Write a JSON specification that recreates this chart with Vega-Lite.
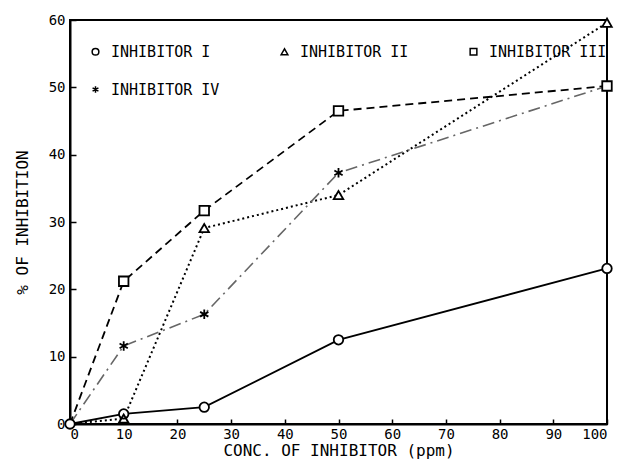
{
  "$schema": "https://vega.github.io/schema/vega-lite/v6.json",
  "autosize": "none",
  "width": 537,
  "height": 404,
  "padding": {"left": 70, "top": 20, "right": 12, "bottom": 43},
  "background": "white",
  "config": {
    "view": {"stroke": "black", "strokeWidth": 2},
    "font": "DejaVu Sans Mono",
    "axis": {
      "labelFont": "DejaVu Sans Mono",
      "titleFont": "DejaVu Sans Mono",
      "labelColor": "black",
      "titleColor": "black",
      "domainColor": "black",
      "domainWidth": 2,
      "tickColor": "black",
      "tickWidth": 1.5,
      "grid": false,
      "labelFontSize": 14,
      "titleFontSize": 16,
      "titleFontWeight": "normal"
    }
  },
  "data": {
    "values": [
      {"series": "INHIBITOR I", "x": 0, "y": 0},
      {"series": "INHIBITOR I", "x": 10, "y": 1.5},
      {"series": "INHIBITOR I", "x": 25, "y": 2.5},
      {"series": "INHIBITOR I", "x": 50, "y": 12.5},
      {"series": "INHIBITOR I", "x": 100, "y": 23.1},
      {"series": "INHIBITOR II", "x": 0, "y": 0},
      {"series": "INHIBITOR II", "x": 10, "y": 0.8},
      {"series": "INHIBITOR II", "x": 25, "y": 29.1},
      {"series": "INHIBITOR II", "x": 50, "y": 34},
      {"series": "INHIBITOR II", "x": 100, "y": 59.6},
      {"series": "INHIBITOR III", "x": 0, "y": 0},
      {"series": "INHIBITOR III", "x": 10, "y": 21.2},
      {"series": "INHIBITOR III", "x": 25, "y": 31.7},
      {"series": "INHIBITOR III", "x": 50, "y": 46.5},
      {"series": "INHIBITOR III", "x": 100, "y": 50.2},
      {"series": "INHIBITOR IV", "x": 0, "y": 0},
      {"series": "INHIBITOR IV", "x": 10, "y": 11.6},
      {"series": "INHIBITOR IV", "x": 25, "y": 16.3},
      {"series": "INHIBITOR IV", "x": 50, "y": 37.3},
      {"series": "INHIBITOR IV", "x": 100, "y": 50.2}
    ]
  },
  "encoding": {
    "x": {
      "field": "x", "type": "quantitative",
      "scale": {"domain": [0, 100], "nice": false},
      "axis": {"values": [0,10,20,30,40,50,60,70,80,90,100], "tickSize": -5, "labelPadding": 8, "title": "CONC. OF INHIBITOR (ppm)", "titlePadding": 1}
    },
    "y": {
      "field": "y", "type": "quantitative",
      "scale": {"domain": [0, 60], "nice": false},
      "axis": {"values": [0,10,20,30,40,50,60], "tickSize": -6, "labelPadding": 11, "title": "% OF INHIBITION", "titlePadding": 18}
    }
  },
  "layer": [
    {
      "transform": [{"filter": "datum.series === 'INHIBITOR I'"}],
      "mark": {"type": "line", "strokeWidth": 1.8, "color": "black"}
    },
    {
      "transform": [{"filter": "datum.series === 'INHIBITOR II'"}],
      "mark": {"type": "line", "strokeWidth": 2, "color": "black", "strokeDash": [2, 3]}
    },
    {
      "transform": [{"filter": "datum.series === 'INHIBITOR III'"}],
      "mark": {"type": "line", "strokeWidth": 1.8, "color": "black", "strokeDash": [8, 5]}
    },
    {
      "transform": [{"filter": "datum.series === 'INHIBITOR IV'"}],
      "mark": {"type": "line", "strokeWidth": 1.6, "color": "#666666", "strokeDash": [12, 5, 2, 5]}
    },
    {
      "transform": [{"filter": "datum.series === 'INHIBITOR I'"}],
      "mark": {"type": "point", "filled": true, "color": "white", "shape": "circle", "size": 90, "opacity": 1}
    },
    {
      "transform": [{"filter": "datum.series === 'INHIBITOR II' && datum.x > 0"}],
      "mark": {"type": "point", "filled": true, "color": "white", "shape": "triangle-up", "size": 90, "opacity": 1}
    },
    {
      "transform": [{"filter": "datum.series === 'INHIBITOR III' && datum.x > 0"}],
      "mark": {"type": "point", "filled": true, "color": "white", "shape": "square", "size": 90, "opacity": 1}
    },
    {
      "transform": [{"filter": "(datum.series === 'INHIBITOR I' || datum.x > 0) && !(datum.series === 'INHIBITOR IV' && datum.x === 100)"}],
      "mark": {"type": "point", "filled": false, "color": "black", "strokeWidth": 1.8, "size": 90, "opacity": 1},
      "encoding": {
        "shape": {"field": "series", "type": "nominal",
          "scale": {"domain": ["INHIBITOR I","INHIBITOR II","INHIBITOR III","INHIBITOR IV"],
                    "range": ["circle","triangle-up","square","M0,-1L0,1M-0.87,-0.5L0.87,0.5M-0.87,0.5L0.87,-0.5"]},
          "legend": {
            "title": null, "orient": "none", "legendX": 18, "legendY": 24,
            "direction": "horizontal", "columns": 3, "gridAlign": "all",
            "columnPadding": 48, "rowPadding": 22, "padding": 0,
            "symbolSize": 45, "symbolStrokeWidth": 1.5,
            "labelFont": "DejaVu Sans Mono", "labelFontSize": 15, "labelColor": "black", "labelOffset": 8, "labelLimit": 300
          }
        }
      }
    }
  ]
}
